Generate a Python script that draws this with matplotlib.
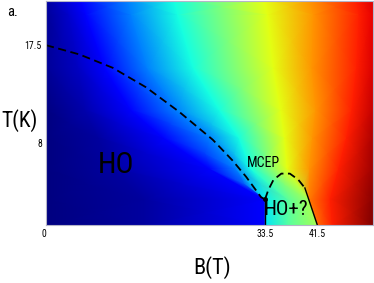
import matplotlib
matplotlib.use("Agg")
import matplotlib.pyplot as plt
import numpy as np

# colour field: for each T row, the B positions where the
# jet colour reaches a given level (navy, blue, light blue, cyan, yellow, orange, red ...)
field_t = [0, 2.5, 5.5, 8.5, 11.2, 15.3, 20.5, 22]
field_b = [
    [0, 15, 33.4, 33.6, 37, 41.4, 41.6, 43.8, 50],
    [0, 15, 33.4, 33.6, 37, 40.1, 40.3, 43.5, 50],
    [0, 10, 25, 29, 31.3, 36.9, 40.3, 44.8, 50],
    [0, 8, 18, 25, 29.5, 36.5, 40.8, 46.0, 50],
    [0, 6, 13, 20, 26.5, 35.9, 41.3, 46.8, 50],
    [0, 5, 9.0, 15.5, 22.5, 34.8, 40.7, 47.5, 50],
    [0, 3.5, 6.1, 13, 20.1, 33.9, 40.9, 47.9, 50],
    [0, 3, 5.3, 12.5, 19.5, 33.3, 40.3, 47.4, 50],
]
field_v = [
    [0.0, 0.03, 0.12, 0.35, 0.45, 0.55, 0.80, 0.875, 1.0],
    [0.0, 0.03, 0.12, 0.36, 0.46, 0.55, 0.78, 0.875, 0.99],
    [0.0, 0.03, 0.125, 0.25, 0.375, 0.625, 0.75, 0.875, 0.97],
    [0.0, 0.03, 0.125, 0.25, 0.375, 0.625, 0.75, 0.875, 0.96],
    [0.0, 0.04, 0.125, 0.25, 0.375, 0.625, 0.75, 0.875, 0.94],
    [0.02, 0.06, 0.125, 0.25, 0.375, 0.625, 0.75, 0.875, 0.92],
    [0.02, 0.07, 0.125, 0.25, 0.375, 0.625, 0.75, 0.875, 0.91],
    [0.03, 0.08, 0.125, 0.25, 0.375, 0.625, 0.75, 0.875, 0.92],
]

# HO phase boundary (dashed) down to the MCEP
ho_b = [0, 5.1, 10.2, 15.3, 20.4, 25.5, 28.5, 30.6, 32.9, 33.5]
ho_t = [17.5, 16.6, 15.3, 13.4, 11.0, 8.3, 6.3, 4.7, 2.7, 2.5]

# dome of the HO+? phase
dome_b = [33.5, 34.0, 34.8, 36.0, 37.3, 38.6, 39.6]
dome_t = [2.5, 3.4, 4.4, 5.0, 5.0, 4.4, 3.6]
edge_b = [39.6, 41.5]
edge_t = [3.6, 0]
wall_b = [33.5, 33.5]
wall_t = [0, 2.5]

xtick_vals = [0, 33.5, 41.5]
ytick_vals = [8, 17.5]

narrow = ["Roboto Condensed", "Liberation Sans Narrow", "Liberation Sans", "DejaVu Sans"]

fig = plt.figure(figsize=(3.74, 2.83), dpi=100)
ax = fig.add_axes([0.123, 0.205, 0.874, 0.7915])

T = np.repeat(np.array(field_t)[:, None], len(field_b[0]), axis=1)
ax.pcolormesh(np.array(field_b), T, np.array(field_v), shading="gouraud",
              cmap="jet", vmin=0, vmax=1)

ax.plot(ho_b, ho_t, color="black", lw=1.3, dashes=(4.5, 2.5))
ax.plot(dome_b, dome_t, color="black", lw=1.3, dashes=(4.5, 2.5))
ax.plot(edge_b, edge_t, color="black", lw=1.0)
ax.plot(wall_b, wall_t, color="black", lw=1.0)
ax.plot([33.5], [2.5], "o", color="black", ms=2.5)

ax.text(10.7, 5.85, "HO", fontsize=21.5, ha="center", va="center", family=narrow)
ax.text(36.7, 1.5, "HO+?", fontsize=15, ha="center", va="center", family=narrow)
ax.text(33.2, 6.0, "MCEP", fontsize=10, ha="center", va="center", family=narrow)

ax.set_xlim(0, 50)
ax.set_ylim(0, 21.8)
ax.set_xticks(xtick_vals)
ax.set_xticklabels(["0", "33.5", "41.5"], fontsize=7, family=narrow)
ax.get_xticklabels()[0].set_ha("right")
ax.set_yticks(ytick_vals)
ax.set_yticklabels(["8", "17.5"], fontsize=7, family=narrow)
ax.tick_params(length=0, pad=3)
for s in ax.spines.values():
    s.set_color("#b4b4c8")
    s.set_linewidth(0.8)

fig.text(1.5 / 374, 1 - 121 / 283, "T(K)", fontsize=15.5, ha="left", va="center", family=narrow)
fig.text(212 / 374, 1 - 268 / 283, "B(T)", fontsize=16, ha="center", va="center", family=narrow)
fig.text(12 / 374, 1 - 12 / 283, "a.", fontsize=10.5, ha="center", va="center", family=narrow)

fig.savefig("out.png", dpi=100)
